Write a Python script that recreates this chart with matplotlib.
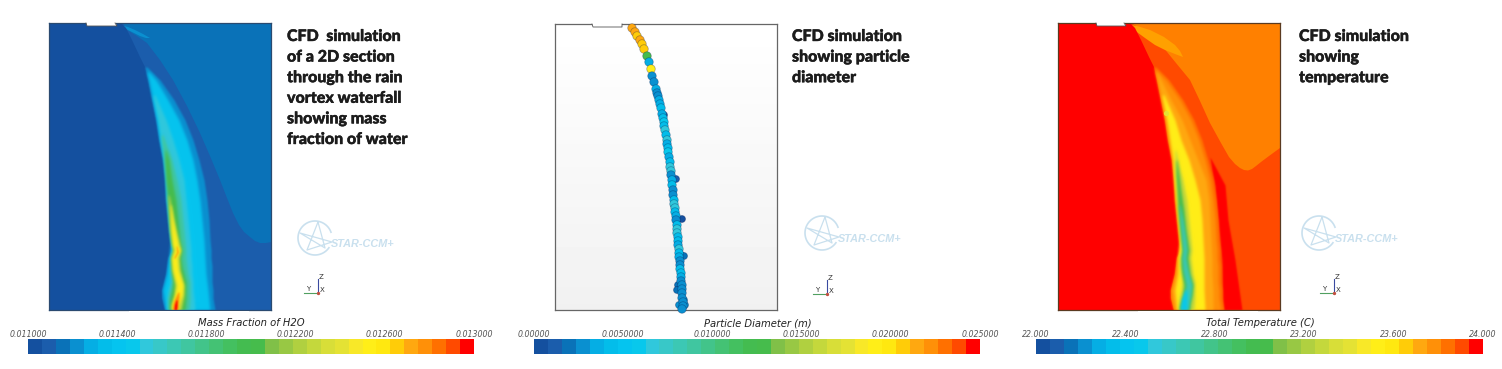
import matplotlib
matplotlib.use("Agg")
from matplotlib import pyplot as plt
from matplotlib import patheffects as pe
from matplotlib.colors import ListedColormap, to_rgb
import numpy as np

W, H = 1502, 369

# legend colours, one per band
band_colors = ['#14509f', '#1b5dac', '#0a72b8', '#0a90d0', '#05aee4', '#03bdea', '#05c4ef', '#08c8ec',
               '#30c8dc', '#38c8c8', '#3cc8b4', '#40c6a0', '#42c48a', '#44c274', '#44c060', '#44bc50',
               '#46bc4c', '#80c048', '#98c844', '#b0d040', '#c4d83c', '#d8de38', '#e4e234', '#f8e828',
               '#ffee18', '#ffe810', '#ffcc08', '#ffa810', '#ff9008', '#ff7000', '#ff4a00', '#ff0000']
cfd = ListedColormap(band_colors)

titles = [["CFD  simulation", "of a 2D section", "through the rain", "vortex waterfall", "showing mass", "fraction of water"],
          ["CFD simulation", "showing particle", "diameter"],
          ["CFD simulation", "showing", "temperature"]]
bar_titles = ["Mass Fraction of H2O", "Particle Diameter (m)", "Total Temperature (C)"]
bar_ticks = [["0.011000", "0.011400", "0.011800", "0.012200", "0.012600", "0.013000"],
             ["0.00000", "0.0050000", "0.010000", "0.015000", "0.020000", "0.025000"],
             ["22.000", "22.400", "22.800", "23.200", "23.600", "24.000"]]

# outlines (first panel's pixels)
dark_x = [49, 49, 121, 126, 132, 140, 145]
dark_y = [310, 23, 23, 28, 40, 57, 67]
edge_y = [67, 80, 100, 120, 140, 160, 180, 200, 220, 240, 250, 258, 266, 274, 282, 290, 298, 310]
edge_left = [145, 148, 152, 156, 159, 163, 165, 166, 168, 170, 172, 168, 167, 166, 164, 162, 162, 165]
edge_right = [147, 160, 174, 185, 193, 199, 204, 207, 209, 210, 211, 211, 212, 212, 212, 213, 213, 215]

mass_region_x = [123, 127, 137, 147, 160, 173, 187, 200, 210, 220, 227, 233, 239, 244, 250, 255, 260, 266, 271, 271]
mass_region_y = [23, 30, 36, 43, 60, 80, 106, 133, 156, 180, 198, 213, 225, 232, 237, 241, 243, 243, 242, 23]
temp_region_x = [122, 131, 142, 154, 167, 181, 191, 201, 212, 220, 226, 231, 235, 239, 243, 247, 252, 260, 271, 271]
temp_region_y = [23, 28, 37, 47, 63, 80, 101, 123, 143, 157, 164, 168, 170, 170.5, 169, 166, 162, 156, 148, 23]

mass_streak_x = [120, 128, 135, 143, 150, 146, 140, 134, 128]
mass_streak_y = [25, 27, 30, 34, 38, 38, 36, 33, 30]
temp_streak_x = [116, 128, 141, 155, 166, 171, 174, 166, 156, 146, 136, 121]
temp_streak_y = [24, 26, 30, 37, 45, 51, 57, 54, 50, 45, 38, 27]

# plume contours of mass fraction: y, left, right
cyan_y = [72, 80, 100, 120, 140, 160, 180, 200, 220, 240, 258, 274, 290, 310]
cyan_left = [147, 149, 153, 157, 160, 164, 166, 167, 169, 171, 169, 167, 163, 166]
cyan_right = [149, 156, 168, 179, 187, 193, 197, 200, 202, 204, 205, 206, 208, 210]
teal_y = [95, 120, 140, 160, 180, 200, 220, 240, 250, 258, 266, 274, 282, 290, 298, 310]
teal_left = [153, 158, 161, 164, 166, 167, 169, 171, 173, 171, 170, 170, 170, 168, 167, 167]
teal_right = [155, 166, 173, 179, 184, 186, 188, 190, 191, 191, 192, 192, 193, 193, 194, 195]
mint_y = [135, 160, 180, 200, 220, 240, 250, 258, 266, 274, 282, 290, 298, 310]
mint_left = [161, 164, 166, 167, 169, 171, 173, 171, 171, 171, 172, 170, 168, 168]
mint_right = [163, 172, 177, 181, 183, 185, 186, 186, 187, 188, 190, 190, 190, 189]
green_y = [150, 160, 180, 200, 220, 240, 250, 258, 266, 274, 282, 290, 298, 310]
green_left = [165, 165, 166, 168, 169, 171, 173, 171, 171, 172, 173, 172, 170, 169]
green_right = [166, 169, 172, 176, 178, 180, 182, 181, 182, 184, 186, 186, 186, 185]
lime_y = [195, 210, 230, 250, 258, 270, 285, 295, 305, 310]
lime_left = [168, 169, 170, 173, 171, 172, 175, 174, 171, 171]
lime_right = [169, 172, 176, 181, 179, 180, 184, 184, 182, 181]
yellow_y = [205, 220, 235, 245, 250, 258, 270, 285, 295, 305, 310]
yellow_left = [170, 171, 172, 173, 175, 172, 173, 177, 175, 172, 172]
yellow_right = [171, 173, 176, 178, 180, 177, 178, 183, 182, 178, 178]
streak_y = [246, 252, 258]
streak_left = [176, 176.5, 173.5]
streak_right = [177, 178.5, 175]
orange_y = [292, 298, 304, 310]
orange_left = [178, 175, 173, 172.5]
orange_right = [179, 179, 178, 178]
red_y = [300, 305, 310]
red_left = [176, 174.5, 174]
red_right = [177, 177, 176.5]

# plume contours of temperature
t_gold_y = [72, 100, 120, 140, 160, 180, 200, 220, 240, 258, 274, 290, 310]
t_gold_left = [147, 153, 157, 160, 164, 166, 167, 169, 171, 169, 167, 163, 166]
t_gold_right = [148, 162, 173, 181, 189, 197, 200, 201, 202, 203, 203, 204, 204]
t_yellow_y = [95, 120, 140, 160, 180, 200, 220, 240, 258, 274, 290, 310]
t_yellow_left = [153, 158, 161, 164, 165, 167, 169, 171, 169, 169, 166, 168]
t_yellow_right = [155, 166, 172, 180, 186, 191, 193, 194, 195, 195, 195, 196]
t_lime_y = [150, 165, 180, 200, 220, 240, 250, 258, 266, 274, 282, 290, 298, 310]
t_lime_left = [166, 166, 167, 168, 170, 172, 173, 171, 171, 172, 173, 172, 170, 169]
t_lime_right = [167, 170, 174, 178, 180, 182, 183, 182, 183, 184, 186, 186, 186, 185]
t_green_y = [160, 175, 190, 210, 230, 250, 258, 266, 274, 285, 295, 305, 310]
t_green_left = [167, 167, 168, 169, 171, 173, 172, 172, 173, 175, 174, 171, 170]
t_green_right = [168, 170, 172, 175, 177, 180, 179, 180, 181, 184, 183, 181, 181]
t_teal_y = [205, 220, 240, 250, 258, 270, 285, 295, 305, 310]
t_teal_left = [170, 171, 173, 174, 173, 174, 177, 175, 172, 171]
t_teal_right = [171, 174, 177, 178, 177, 179, 183, 182, 180, 179]
t_cyan_y = [290, 298, 305, 310]
t_cyan_left = [176, 173, 172, 171.5]
t_cyan_right = [178, 178, 178, 178]
sliver_y = [157, 170, 185, 220, 260, 310]
sliver_left = [201, 203, 206, 209, 213, 214]
sliver_right = [201, 208, 216, 219, 226, 233]

# particles
drop_x = [632, 635, 637, 640, 642, 644, 647, 649, 651, 652, 654, 656, 657, 658, 659, 660, 661, 662, 663, 664, 664,
          665, 666, 667, 667, 668, 668, 669, 670, 670, 671, 671, 672, 672, 673, 673, 674, 674, 675, 675, 676, 676,
          677, 677, 677, 678, 678, 678, 679, 679, 679, 680, 680, 680, 681, 681, 681, 682, 682, 682, 682, 683, 683, 682]
drop_y = [28, 32, 36, 40, 44, 49, 56, 62, 69, 76, 82, 89, 93, 96, 100, 104, 108, 114, 118, 122, 126,
          130, 135, 140, 144, 148, 152, 157, 162, 167, 171, 175, 180, 185, 190, 195, 200, 204, 208, 212, 216, 220,
          225, 229, 233, 237, 241, 245, 249, 253, 257, 261, 265, 269, 273, 277, 281, 285, 289, 293, 298, 302, 306, 309]
drop_d = [.0212, .0216, .0210, .0214, .0208, .0205, .0130, .0034, .0190, .0026, .0030, .0034, .0026, .0028, .0034, .0038,
          .0040, .0032, .0040, .0062, .0040, .0064, .0042, .0066, .0036, .0040, .0062, .0032, .0040, .0064, .0066, .0030,
          .0034, .0040, .0030, .0026, .0040, .0064, .0066, .0042, .0032, .0026, .0040, .0064, .0066, .0040, .0042, .0032,
          .0064, .0040, .0034, .0026, .0030, .0040, .0042, .0032, .0030, .0028, .0030, .0026, .0024, .0026, .0028, .0024]
stray_x = [664, 676, 682, 674, 681, 678, 684, 677, 684, 679, 685]
stray_y = [115, 179, 219, 205, 255, 285, 256, 290, 300, 305, 305]
stray_d = [.0008, .0008, .0006, .0016, .0016, .0016, .0016, .0020, .0024, .0024, .0024]

temp_spot_x, temp_spot_y = [157], [113]

fig = plt.figure(figsize=(W / 100, H / 100), dpi=100)
fig.patch.set_facecolor('white')


def px_axes(x0, y0, x1, y1):
    return fig.add_axes([x0 / W, 1 - y1 / H, (x1 - x0) / W, (y1 - y0) / H])


def frame(ax, col):
    ax.set_xticks([])
    ax.set_yticks([])
    for s in ax.spines.values():
        s.set_color(col)
        s.set_linewidth(0.9)


def soften(col, sigma):
    # agg filter: blur the alpha of a one colour shape
    rgb = to_rgb(col)
    pad = int(3 * sigma) + 1
    kern = np.exp(-0.5 * (np.arange(-pad, pad + 1) / sigma) ** 2)
    kern = kern / kern.sum()

    def apply(im, dpi):
        a = np.pad(im[:, :, 3], pad)
        a = np.apply_along_axis(np.convolve, 0, a, kern, mode='same')
        a = np.apply_along_axis(np.convolve, 1, a, kern, mode='same')
        out = np.zeros(a.shape + (4,))
        out[..., 0], out[..., 1], out[..., 2] = rgb
        out[..., 3] = a
        return out, -pad, -pad
    return apply


def band(ax, y, left, right, idx, sigma=1.0):
    col = band_colors[idx]
    poly = ax.fill_betweenx(y, left, right, color=col, lw=0)
    poly.set_agg_filter(soften(col, sigma))
    poly.set_rasterized(True)


# page layer for text, logos, legends
page = fig.add_axes([0, 0, 1, 1])
page.set_xlim(0, W)
page.set_ylim(H, 0)
page.axis('off')

# panel 1: mass fraction
ax1 = px_axes(49, 23, 271, 310)
ax1.set_xlim(49, 271)
ax1.set_ylim(310, 23)
ax1.set_facecolor(band_colors[1])
ax1.fill(mass_region_x, mass_region_y, color=band_colors[2], lw=0)
ax1.fill(mass_streak_x, mass_streak_y, color=band_colors[3], lw=0)
ax1.fill(dark_x + edge_left, dark_y + edge_y, color=band_colors[0], lw=0)
band(ax1, edge_y, edge_left, edge_right, 3, 0.7)
band(ax1, cyan_y, cyan_left, cyan_right, 6)
band(ax1, teal_y, teal_left, teal_right, 8)
band(ax1, mint_y, mint_left, mint_right, 11)
band(ax1, green_y, green_left, green_right, 16)
band(ax1, lime_y, lime_left, lime_right, 20)
band(ax1, yellow_y, yellow_left, yellow_right, 24)
band(ax1, streak_y, streak_left, streak_right, 27, 0.6)
band(ax1, orange_y, orange_left, orange_right, 28, 0.7)
band(ax1, red_y, red_left, red_right, 31, 0.6)
frame(ax1, '#2a4a70')

# panel 2: particles
ax2 = px_axes(555, 24, 777, 310)
ax2.set_xlim(555, 777)
ax2.set_ylim(310, 24)
ax2.imshow(np.linspace(1, 0.945, 50).reshape(-1, 1), cmap='gray', vmin=0, vmax=1, aspect='auto',
           extent=(555, 777, 310, 24))
shade = (0, 0.05, 0.25, 0.3)
ax2.scatter(stray_x, stray_y, c=stray_d, cmap=cfd, vmin=0, vmax=0.025, s=26, edgecolors=shade, lw=0.6,
            clip_on=False, zorder=3)
ax2.scatter(drop_x, drop_y, c=drop_d, cmap=cfd, vmin=0, vmax=0.025, s=38, edgecolors=shade, lw=0.6,
            clip_on=False, zorder=3)
frame(ax2, '#666666')

# panel 3: temperature
ax3 = px_axes(1058, 23, 1280, 310)
ax3.set_xlim(49, 271)
ax3.set_ylim(310, 23)
ax3.set_facecolor(band_colors[30])
ax3.fill(temp_region_x, temp_region_y, color='#ff8000', lw=0)
ax3.fill(temp_streak_x, temp_streak_y, color='#ffa000', lw=0)
ax3.fill(dark_x + edge_left, dark_y + edge_y, color=band_colors[31], lw=0)
band(ax3, sliver_y, sliver_left, sliver_right, 31, 0.6)
band(ax3, edge_y, edge_left, edge_right, 29, 0.7)
band(ax3, edge_y, edge_left, [e - 3 for e in edge_right], 28)
band(ax3, t_gold_y, t_gold_left, t_gold_right, 27)
band(ax3, t_yellow_y, t_yellow_left, t_yellow_right, 24)
band(ax3, t_lime_y, t_lime_left, t_lime_right, 20)
band(ax3, t_green_y, t_green_left, t_green_right, 15)
band(ax3, t_teal_y, t_teal_left, t_teal_right, 10)
band(ax3, t_cyan_y, t_cyan_left, t_cyan_right, 7)
ax3.scatter(temp_spot_x, temp_spot_y, s=14, color=band_colors[22], lw=0)
frame(ax3, '#5a3a20')

page.set_zorder(5)
page.patch.set_alpha(0)

# blur must not leak under the panels
for cx in [49, 1058]:
    page.fill([cx + 80, cx + 200, cx + 200, cx + 80], [311, 311, 317, 317], color='white', lw=0, zorder=1)

# inlet notches on top edge
notch_x = [[86, 87, 117, 115], [592, 593, 622, 622], [1096, 1097, 1126, 1124]]
notch_top = [23, 24, 23]
for nx, nt in zip(notch_x, notch_top):
    page.fill(nx, [nt - 1, nt + 3, nt + 3, nt - 1], color='white', lw=0, zorder=5)
    page.plot(nx, [nt, nt + 3, nt + 3, nt], color='#555555', lw=0.6, zorder=5)

# text on the right of each panel
title_x = [287, 792, 1299]
for tx, lines in zip(title_x, titles):
    for i, line in enumerate(lines):
        page.text(tx, 36 + i * 20.6, line, fontsize=11.5, family='Lato', weight='black', color='#1c1c1c',
                  va='center', ha='left', zorder=6,
                  path_effects=[pe.withStroke(linewidth=0.3, foreground='#1c1c1c')])

# logo
logo_x = [315, 822, 1319]
logo_y = [238, 233, 233]
logo_col = '#c9e0ee'
star_dx = [3, 10, -15, 17, -8, 3]
star_dy = [-16, 10, -5, 4, 12, -16]
for lx, ly in zip(logo_x, logo_y):
    th = np.radians(np.arange(35, 345, 5))
    page.plot(lx + 17 * np.cos(th), ly + 17 * np.sin(th), color=logo_col, lw=1.2, zorder=2)
    page.plot([lx + d for d in star_dx], [ly + d for d in star_dy], color=logo_col, lw=0.9, zorder=2)
    page.text(lx + 16, ly + 6, "STAR-CCM+", fontsize=7.8, weight='bold', style='italic', color=logo_col,
              family='Liberation Sans', va='center', ha='left', zorder=2)

# xyz triad
triad_x = [318, 827, 1334]
triad_y = [293, 294, 293]
for ox, oy in zip(triad_x, triad_y):
    page.plot([ox, ox], [oy, oy - 14], color='#3a4aa0', lw=0.8)
    page.plot([ox, ox - 14], [oy, oy], color='#50a060', lw=0.8)
    page.plot([ox], [oy], marker='o', ms=1.4, color='#c05040')
    page.text(ox + 3, oy - 16, "Z", fontsize=5, color='#333333', ha='center', va='center')
    page.text(ox - 10, oy - 4, "Y", fontsize=5, color='#333333', ha='center', va='center')
    page.text(ox + 4, oy - 3, "X", fontsize=5, color='#333333', ha='center', va='center')

# colour bars
bar_x0 = [28, 534, 1036]
bar_x1 = [474, 980, 1483]
for x0, x1, bt, labels in zip(bar_x0, bar_x1, bar_titles, bar_ticks):
    cax = px_axes(x0, 339, x1, 354)
    cax.pcolormesh(np.arange(33), [0, 1], np.arange(32).reshape(1, -1), cmap=cfd, vmin=0, vmax=32)
    cax.axis('off')
    page.text((x0 + x1) / 2 + 0.5, 323, bt, fontsize=7.2, style='italic', color='#222222', ha='center', va='center')
    for i, lab in enumerate(labels):
        page.text(x0 + (x1 - x0) * i / 5, 334.5, lab, fontsize=5.7, style='italic', color='#555555',
                  ha='center', va='center')

fig.savefig("out.png", dpi=100)
